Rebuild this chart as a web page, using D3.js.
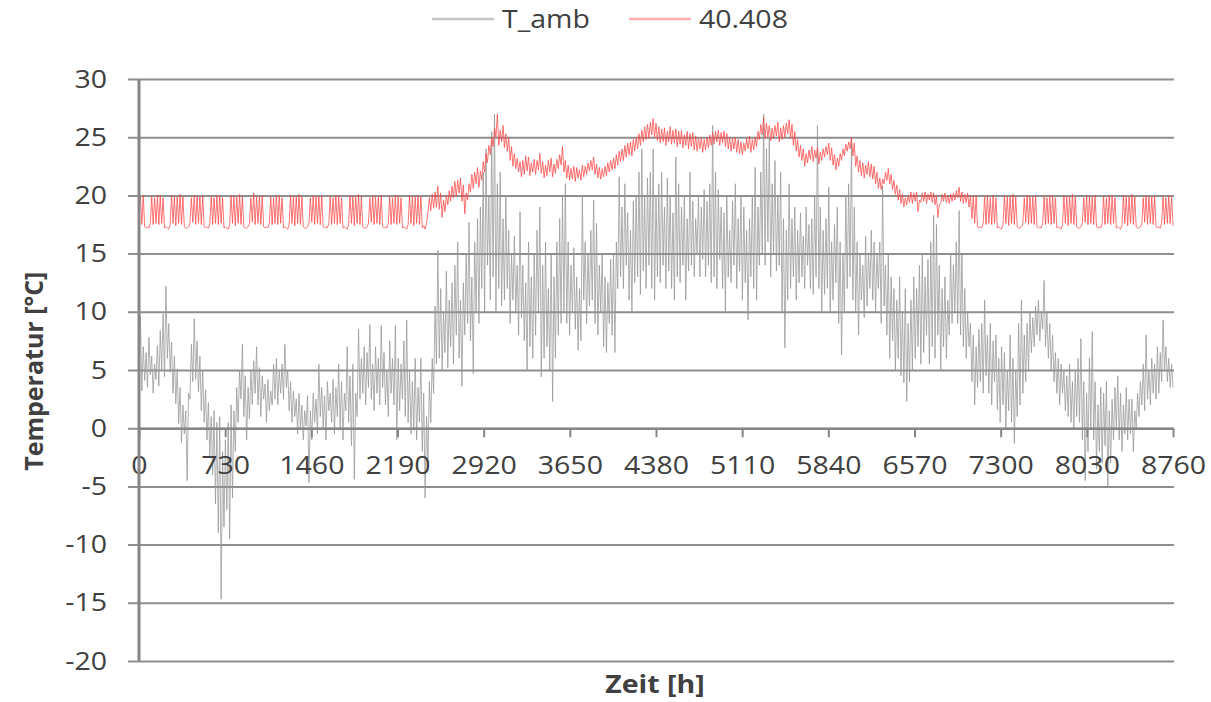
<!DOCTYPE html>
<html>
<head>
<meta charset="utf-8">
<script src="https://cdn.jsdelivr.net/npm/d3@7"></script>
<style>
body { margin: 0; background: #fff; }
text { font-family: "Open Sans", sans-serif; fill: #404040; }
</style>
</head>
<body>
<svg class="temperature" width="1211" height="702"></svg>
<script>
var xTicks = [0, 730, 1460, 2190, 2920, 3650, 4380, 5110, 5840, 6570, 7300, 8030, 8760];
var yTicks = [-20, -15, -10, -5, 0, 5, 10, 15, 20, 25, 30];
var seriesNames = ["T_amb", "40.408"];
var stepHours = 12;

// ambient temperature, one value every 12 h (10 days per row)
var tAmb = [
  4.5, 9.6, 3.2, 7.0, 4.1, 6.5, 3.5, 7.8, 4.6, 6.2, 3.0, 5.5, 4.2, 7.1, 3.6, 8.4, 5.0, 9.8, 4.4, 12.2,
  6.0, 9.0, 4.8, 7.4, 3.0, 6.2, 2.1, 5.1, 0.4, 3.5, -1.2, 2.0, -0.5, 1.5, -4.5, 3.0, 2.5, 7.2, 4.0, 9.4,
  4.2, 7.5, 3.1, 6.2, 1.5, 5.0, 0.5, 3.3, -1.0, 2.2, -2.5, 1.0, -4.0, 1.5, -6.5, 0.5, -9.0, 1.0, -14.7, -2.0,
  -8.5, -1.0, -7.0, 0.5, -9.5, 2.0, -6.0, 1.5, -2.0, 3.5, 0.5, 5.0, 2.5, 7.2, 1.0, 4.5, -1.0, 3.5, 0.8, 5.0,
  2.0, 5.8, 3.0, 7.0, 2.0, 5.2, 1.0, 4.5, 2.5, 3.8, 0.5, 4.2, 1.5, 3.2, 2.0, 5.5, 2.5, 6.0, 2.0, 5.0,
  3.0, 5.5, 2.5, 7.2, 3.5, 5.0, 1.5, 4.0, 0.5, 3.2, 1.0, 2.5, -0.5, 3.0, 0.0, 2.0, -1.0, 1.5, 0.2, 2.8,
  -4.7, 1.5, -1.0, 3.0, 0.5, 2.5, -0.5, 5.5, 1.0, 3.5, 0.0, 2.8, -1.0, 4.0, 1.5, 3.0, 0.5, 4.2, -0.5, 3.5,
  1.0, 5.5, 0.0, 4.0, -1.0, 3.0, 1.5, 7.0, 0.5, 4.5, -1.5, 5.5, -4.4, 3.0, 1.0, 8.5, 2.5, 6.0, 3.0, 7.0,
  2.0, 6.5, 3.5, 8.9, 2.5, 5.5, 1.5, 7.0, 3.0, 6.0, 2.0, 8.8, 3.5, 6.5, 2.0, 5.0, 1.0, 7.5, 3.0, 6.0,
  2.0, 8.8, -1.0, 6.0, 1.5, 5.5, 2.5, 7.5, 1.0, 9.3, 0.5, 5.0, -0.5, 4.0, 0.0, 6.0, -1.0, 3.5, 0.5, 6.0,
  -2.0, 3.0, -6.0, 1.0, -3.0, 4.0, 0.5, 6.0, 3.0, 10.5, 5.5, 15.3, 6.0, 12.0, 5.0, 10.0, 6.5, 13.5, 5.2, 11.0,
  7.0, 12.5, 5.5, 14.0, 8.0, 16.0, 6.0, 11.0, 3.6, 12.5, 8.0, 15.0, 9.0, 17.7, 7.5, 13.0, 4.7, 16.0, 10.0, 18.0,
  9.0, 19.0, 12.0, 22.0, 10.0, 24.0, 14.0, 20.0, 11.0, 25.5, 13.0, 27.0, 10.0, 21.0, 12.0, 22.0, 10.5, 18.0, 11.0, 20.0,
  12.0, 17.0, 9.0, 15.0, 11.0, 16.5, 10.0, 14.0, 8.0, 18.6, 9.5, 14.0, 7.5, 12.5, 5.0, 16.0, 7.0, 13.0, 6.0, 15.0,
  8.0, 17.0, 10.0, 19.0, 4.4, 14.0, 6.0, 16.0, 7.0, 12.0, 5.0, 15.0, 2.3, 13.0, 6.0, 16.0, 8.0, 18.0, 9.0, 20.0,
  10.0, 21.0, 9.0, 16.0, 8.0, 14.0, 10.0, 15.5, 8.5, 13.0, 6.7, 12.0, 7.5, 19.9, 11.0, 16.0, 9.0, 15.0, 10.5, 17.0,
  11.0, 19.6, 9.0, 17.6, 8.0, 14.0, 10.0, 15.0, 7.0, 13.0, 6.5, 12.5, 9.0, 14.5, 8.0, 15.0, 6.5, 16.0, 12.0, 21.6,
  13.0, 19.0, 12.0, 21.0, 14.0, 18.5, 11.0, 17.0, 10.0, 19.5, 12.5, 20.0, 13.0, 22.0, 11.5, 24.0, 13.5, 20.0, 12.0, 21.5,
  14.0, 22.0, 12.0, 24.0, 11.0, 20.0, 13.0, 21.0, 12.5, 22.0, 14.0, 19.0, 12.0, 21.5, 13.5, 20.0, 12.0, 18.5, 11.0, 23.3,
  13.0, 21.0, 12.5, 19.0, 14.0, 20.0, 11.0, 18.0, 13.5, 22.0, 14.0, 19.5, 13.0, 18.0, 15.0, 20.0, 13.0, 19.0, 14.5, 20.5,
  13.0, 19.5, 14.0, 21.0, 12.5, 26.0, 13.0, 22.0, 12.0, 20.5, 14.5, 19.0, 12.0, 18.5, 10.0, 20.0, 13.0, 17.0, 12.5, 19.5,
  14.0, 21.0, 12.0, 18.0, 13.5, 20.0, 11.0, 19.0, 12.5, 17.0, 9.3, 18.0, 13.0, 20.0, 12.0, 22.4, 11.0, 19.0, 14.0, 22.0,
  15.0, 27.0, 14.0, 24.0, 16.0, 25.0, 13.0, 21.0, 15.0, 23.0, 13.5, 20.0, 14.0, 22.0, 10.0, 18.0, 6.9, 17.0, 11.0, 21.0,
  12.0, 18.0, 13.0, 19.0, 11.0, 17.0, 12.5, 18.5, 13.0, 16.5, 12.0, 19.0, 14.0, 17.5, 12.0, 18.0, 11.5, 20.0, 13.0, 26.0,
  12.0, 19.0, 10.0, 17.0, 11.5, 18.0, 12.0, 20.7, 10.0, 16.0, 11.0, 17.5, 12.5, 19.0, 9.0, 16.0, 6.3, 15.0, 10.0, 20.0,
  12.0, 21.0, 13.0, 24.9, 11.0, 19.0, 10.0, 16.0, 8.0, 15.0, 11.0, 14.0, 9.5, 16.5, 10.5, 15.0, 12.0, 17.0, 11.0, 16.0,
  10.0, 15.0, 12.0, 16.0, 9.0, 20.8, 10.5, 14.0, 8.0, 15.0, 6.0, 13.0, 7.5, 12.0, 5.0, 11.0, 6.0, 13.0, 4.5, 10.0,
  3.9, 12.0, 2.3, 9.0, 4.0, 11.0, 5.0, 13.0, 6.0, 12.0, 7.0, 14.0, 5.5, 15.0, 6.5, 13.0, 8.0, 14.5, 5.5, 16.0,
  7.0, 18.3, 6.0, 17.5, 8.0, 14.0, 5.0, 12.0, 7.0, 13.0, 6.0, 11.0, 8.0, 15.0, 9.0, 14.0, 10.0, 16.0, 9.0, 18.7,
  8.0, 15.0, 7.0, 12.0, 6.0, 10.0, 7.0, 9.0, 4.0, 8.0, 2.0, 7.0, 3.5, 8.5, 4.0, 9.0, 3.0, 11.0, 4.5, 8.0,
  3.0, 9.0, 2.0, 7.5, 4.0, 8.0, 1.6, 6.0, 0.5, 7.0, 2.0, 6.5, 0.0, 5.0, 1.5, 8.0, 0.5, 6.0, -1.3, 5.0,
  1.0, 9.0, 2.0, 11.0, 3.0, 8.0, 4.0, 9.0, 5.0, 10.0, 6.5, 9.5, 7.0, 10.5, 8.0, 11.0, 7.5, 10.0, 8.5, 12.7,
  7.0, 10.0, 6.0, 9.0, 5.0, 8.0, 4.0, 6.5, 3.0, 6.0, 2.0, 5.5, 3.0, 5.0, 1.5, 4.5, 1.0, 5.5, 0.5, 4.0,
  0.0, 5.0, 1.0, 6.0, 0.5, 7.7, -1.0, 4.0, -4.5, 3.0, -2.0, 6.0, 0.0, 8.3, -1.0, 4.0, -3.5, 2.0, -2.0, 3.5,
  -3.0, 3.0, -1.5, 4.0, -5.0, 1.5, -3.0, 2.5, -1.0, 3.5, 0.0, 4.5, -1.0, 3.0, -2.0, 2.0, -0.5, 3.5, -1.0, 2.5,
  -0.5, 2.5, -2.0, 1.5, 0.0, 3.0, 1.0, 4.0, 2.0, 5.5, 1.5, 8.0, 2.5, 5.0, 2.0, 6.0, 3.0, 5.5, 2.5, 7.0,
  3.0, 6.5, 4.0, 9.3, 5.0, 7.0, 4.0, 6.0, 3.5, 5.5, 3.5
];

// room temperature "40.408", one value every 12 h (one week per row)
var tRoom = [
  19.6, 19.9, 17.5, 20.0, 17.3, 17.2, 17.3, 17.2, 17.6, 19.9, 17.5, 19.8, 17.6, 20.0,
  17.5, 20.0, 17.6, 19.8, 17.2, 17.3, 17.2, 17.1, 17.5, 20.0, 17.6, 19.9, 17.4, 19.9,
  17.6, 20.1, 17.5, 19.9, 17.3, 17.2, 17.2, 17.3, 17.6, 19.8, 17.7, 20.0, 17.5, 19.9,
  17.6, 19.9, 17.5, 20.0, 17.3, 17.2, 17.3, 17.2, 17.6, 19.9, 17.5, 19.8, 17.6, 20.0,
  17.5, 20.0, 17.6, 19.8, 17.2, 17.3, 17.2, 17.1, 17.5, 20.0, 17.6, 19.9, 17.4, 19.9,
  17.6, 20.1, 17.5, 19.9, 17.3, 17.2, 17.2, 17.3, 17.6, 19.8, 17.7, 20.2, 17.5, 19.9,
  17.6, 19.9, 17.5, 20.0, 17.3, 17.2, 17.3, 17.2, 17.6, 19.9, 17.5, 19.8, 17.6, 20.0,
  17.5, 20.0, 17.6, 19.8, 17.2, 17.3, 17.2, 17.1, 17.5, 20.0, 17.6, 19.9, 17.4, 19.9,
  17.6, 20.1, 17.5, 19.9, 17.3, 17.2, 17.2, 17.3, 17.6, 19.8, 17.7, 20.0, 17.5, 19.9,
  17.6, 19.9, 17.5, 20.0, 17.3, 17.2, 17.3, 17.2, 17.6, 19.9, 17.5, 19.8, 17.6, 20.0,
  17.5, 20.0, 17.6, 19.8, 17.2, 17.3, 17.2, 17.1, 17.5, 20.0, 17.6, 19.9, 17.4, 19.9,
  17.6, 20.1, 17.5, 19.9, 17.3, 17.2, 17.2, 17.3, 17.6, 19.8, 17.7, 20.0, 17.5, 19.9,
  17.6, 19.9, 17.5, 20.0, 17.3, 17.2, 17.3, 17.2, 17.6, 19.9, 17.5, 19.8, 17.6, 20.0,
  17.5, 20.0, 17.6, 19.8, 17.2, 17.3, 17.2, 17.1, 17.5, 20.0, 17.6, 19.9, 17.4, 19.9,
  17.6, 20.0, 17.5, 19.9, 17.2, 17.4, 17.1, 17.6, 18.5, 19.8, 18.7, 20.1, 18.9, 20.3,
  19.0, 20.8, 18.8, 20.2, 18.1, 19.6, 18.6, 20.0, 19.2, 20.4, 19.5, 20.8, 19.8, 21.2,
  19.9, 21.3, 20.2, 21.5, 19.5, 20.9, 18.4, 20.2, 19.6, 21.0, 20.3, 21.8, 20.6, 22.0,
  21.0, 22.4, 20.7, 22.1, 21.3, 22.9, 22.0, 23.6, 22.8, 24.3, 23.5, 25.0, 24.2, 25.8,
  25.0, 27.0, 24.3, 25.6, 24.6, 26.0, 24.1, 25.3, 23.8, 25.0, 23.0, 24.2, 22.5, 23.6,
  22.3, 23.2, 22.0, 22.9, 21.6, 23.0, 21.8, 23.4, 22.1, 23.3, 21.7, 22.8, 22.0, 23.1,
  21.8, 23.0, 22.2, 23.6, 21.9, 22.9, 21.5, 22.6, 21.7, 23.0, 22.0, 23.2, 21.6, 22.7,
  21.9, 23.1, 22.3, 23.5, 22.6, 24.2, 22.0, 23.0, 21.5, 22.6, 21.3, 22.3, 21.4, 22.5,
  21.2, 22.4, 21.5, 22.2, 21.3, 22.6, 21.6, 22.5, 21.8, 22.8, 22.1, 23.0, 22.2, 23.3,
  21.8, 22.7, 21.5, 22.4, 21.4, 22.3, 21.6, 22.5, 21.7, 22.8, 22.0, 23.0, 22.2, 23.2,
  22.3, 23.5, 22.6, 23.8, 22.9, 24.0, 23.0, 24.3, 23.3, 24.5, 23.5, 24.6, 23.4, 24.8,
  23.8, 25.0, 24.0, 25.3, 24.3, 25.6, 24.6, 25.9, 24.8, 26.1, 24.9, 26.3, 25.2, 26.6,
  25.0, 26.2, 24.7, 25.9, 24.5, 25.7, 24.6, 25.8, 24.3, 25.5, 24.6, 25.9, 24.4, 25.6,
  24.5, 25.7, 24.2, 25.5, 24.4, 25.6, 24.1, 25.2, 24.3, 25.5, 24.0, 25.3, 24.2, 25.4,
  23.9, 25.1, 23.8, 24.9, 24.0, 25.0, 23.7, 24.8, 23.9, 25.0, 24.1, 25.2, 24.3, 25.4,
  24.4, 25.5, 24.6, 25.6, 24.3, 25.4, 24.5, 25.5, 24.2, 25.3, 24.0, 25.0, 23.8, 24.9,
  24.0, 25.0, 23.7, 24.8, 23.6, 24.6, 23.5, 24.5, 23.8, 24.9, 24.0, 25.1, 23.7, 24.8,
  23.9, 25.0, 24.2, 25.5, 24.8, 26.1, 25.2, 26.7, 24.9, 26.2, 25.0, 26.0, 24.7, 25.8,
  24.9, 26.0, 25.1, 26.3, 24.6, 25.8, 24.8, 26.0, 25.0, 26.2, 25.3, 26.5, 24.9, 26.1,
  24.3, 25.5, 23.8, 24.8, 23.3, 24.3, 23.0, 24.0, 22.5, 23.6, 22.8, 23.9, 23.1, 24.2,
  22.9, 23.9, 23.2, 24.1, 22.7, 23.7, 23.0, 24.0, 23.3, 24.2, 23.5, 24.5, 23.0, 24.1,
  22.6, 23.5, 22.2, 23.2, 22.5, 23.6, 23.0, 24.0, 23.4, 24.4, 23.8, 24.6, 24.0, 25.0,
  23.4, 24.5, 22.5, 23.4, 22.0, 23.0, 21.7, 22.8, 21.5, 22.6, 21.8, 22.9, 21.6, 22.7,
  21.4, 22.5, 21.0, 22.0, 20.6, 21.5, 20.5, 21.4, 21.0, 22.0, 21.3, 22.3, 21.0, 21.8,
  20.5, 21.3, 20.1, 20.9, 19.6, 20.5, 19.3, 20.1, 19.0, 19.8, 19.2, 20.0, 19.4, 20.3,
  19.3, 20.2, 19.5, 20.3, 18.6, 19.6, 19.4, 20.2, 19.5, 20.3, 19.3, 20.1, 19.6, 20.3,
  19.4, 20.2, 19.2, 20.0, 18.1, 19.2, 19.3, 20.1, 19.5, 20.2, 19.4, 20.0, 19.3, 20.1,
  19.5, 20.2, 19.6, 20.4, 19.8, 20.7, 19.5, 20.3, 19.3, 20.1, 19.4, 20.2, 19.0, 20.0,
  18.0, 19.9, 17.6, 20.0, 17.3, 17.2, 17.3, 17.2, 17.6, 19.9, 17.5, 20.0, 17.6, 19.8,
  17.5, 20.0, 17.6, 19.8, 17.2, 17.3, 17.2, 17.1, 17.5, 20.0, 17.6, 19.9, 17.4, 19.9,
  17.6, 20.1, 17.5, 19.9, 17.3, 17.2, 17.2, 17.3, 17.6, 19.8, 17.7, 20.0, 17.5, 19.9,
  17.6, 19.9, 17.5, 20.0, 17.3, 17.2, 17.3, 17.2, 17.6, 19.9, 17.5, 19.8, 17.6, 20.0,
  17.5, 20.0, 17.6, 19.8, 17.2, 17.3, 17.2, 17.1, 17.5, 20.0, 17.6, 19.9, 17.4, 19.9,
  17.6, 20.1, 17.5, 19.9, 17.3, 17.2, 17.2, 17.3, 17.6, 19.8, 17.7, 20.0, 17.5, 19.9,
  17.6, 19.9, 17.5, 20.0, 17.3, 17.2, 17.3, 17.2, 17.6, 19.9, 17.5, 19.8, 17.6, 20.0,
  17.5, 20.0, 17.6, 19.8, 17.2, 17.3, 17.2, 17.1, 17.5, 20.0, 17.6, 19.9, 17.4, 19.9,
  17.6, 20.1, 17.5, 19.9, 17.3, 17.2, 17.2, 17.3, 17.6, 19.8, 17.7, 20.0, 17.5, 19.9,
  17.6, 19.9, 17.5, 20.0, 17.3, 17.2, 17.3, 17.2, 17.6, 19.9, 17.5, 19.8, 17.6, 20.0,
  17.6, 19.9, 17.4
];

var margin = {top: 79, right: 38, bottom: 41, left: 139},
    width = 1211 - margin.left - margin.right,
    height = 702 - margin.top - margin.bottom;

var svg = d3.select(".temperature");
var chart = svg.append("g")
    .attr("transform", "translate(" + margin.left + "," + margin.top + ")");

var x = d3.scaleLinear().domain([0, 8760]).range([0, width]);
var y = d3.scaleLinear().domain([-20, 30]).range([height, 0]);

// plain hyphen like the original, not the unicode minus
var plain = function(d) { return String(d); };

// the picture is stretched sideways, so the text is too
function widen(sel) {
  sel.each(function() {
    var w = this.getComputedTextLength();
    d3.select(this).attr("textLength", w * 1.14).attr("lengthAdjust", "spacingAndGlyphs");
  });
}

// horizontal grid + y tick labels
var grid = chart.append("g")
    .attr("transform", "translate(" + (width + 1) + ",0)")
    .call(d3.axisLeft(y).tickValues(yTicks).tickSize(width + 12).tickPadding(21).tickFormat(plain));
grid.select(".domain").remove();
grid.selectAll("line").attr("stroke", "#8e8e8e").attr("stroke-width", 2);
grid.selectAll("text")
    .attr("fill", "#404040")
    .style("font-size", "25px")
    .style("font-family", "'Open Sans', sans-serif")
    .call(widen);

var line = d3.line()
    .x(function(d, i) { return x(i * stepHours); })
    .y(function(d) { return y(d); });

chart.append("path")
    .datum(tAmb)
    .attr("fill", "none")
    .attr("stroke", "#969696")
    .attr("stroke-width", 0.75)
    .attr("d", line);

chart.append("path")
    .datum(tRoom)
    .attr("fill", "none")
    .attr("stroke", "#ff4646")
    .attr("stroke-width", 0.75)
    .attr("d", line);

// x axis sits on the 0 line
var xAxis = chart.append("g")
    .attr("transform", "translate(0," + y(0) + ")")
    .call(d3.axisBottom(x).tickValues(xTicks).tickSize(9).tickSizeOuter(0).tickPadding(19).tickFormat(plain));
xAxis.select(".domain").attr("stroke", "#868686").attr("stroke-width", 2.5);
xAxis.selectAll("line").attr("stroke", "#868686").attr("stroke-width", 2);
xAxis.selectAll("text")
    .attr("fill", "#404040")
    .style("font-size", "25px")
    .style("font-family", "'Open Sans', sans-serif")
    .call(widen);

// y axis line
chart.append("line")
    .attr("x1", 0).attr("x2", 0)
    .attr("y1", y(30)).attr("y2", y(-20))
    .attr("stroke", "#868686")
    .attr("stroke-width", 3);

chart.append("text")
    .attr("x", width / 2 - 1)
    .attr("y", height + 32)
    .style("text-anchor", "middle")
    .style("font-size", "25px")
    .style("font-weight", "bold")
    .text("Zeit [h]")
    .call(widen);

chart.append("text")
    .attr("transform", "rotate(-90)")
    .attr("x", -(y(0) - 57))
    .attr("y", 43 - margin.left)
    .style("text-anchor", "middle")
    .style("font-size", "25px")
    .style("font-weight", "bold")
    .text("Temperatur [°C]");

// legend
var legendColors = ["#c4c4c4", "#ffadad"];
var legendX = [432, 629];
var legend = svg.selectAll(".legend")
    .data(seriesNames)
  .enter().append("g")
    .attr("class", "legend")
    .attr("transform", function(d, i) { return "translate(" + legendX[i] + ",19)"; });
legend.append("line")
    .attr("x1", 0).attr("x2", 62)
    .attr("stroke", function(d, i) { return legendColors[i]; })
    .attr("stroke-width", 2.5);
legend.append("text")
    .attr("x", 70)
    .attr("y", 9)
    .style("font-size", "25px")
    .text(function(d) { return d; })
    .call(widen);
</script>
</body>
</html>
